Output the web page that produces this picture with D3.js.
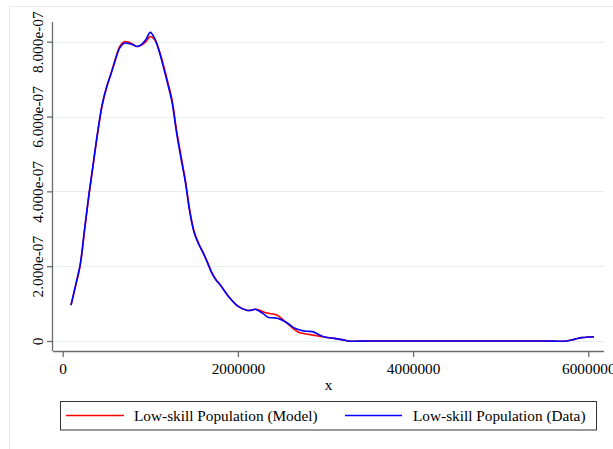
<!DOCTYPE html>
<html>
<head>
<meta charset="utf-8">
<script src="https://cdn.jsdelivr.net/npm/d3@7"></script>
<style>
  html, body { margin: 0; padding: 0; background: #fff; }
  svg { display: block; }
  text { font-family: "Liberation Serif", "Times New Roman", serif; fill: #000; }
</style>
</head>
<body>
<svg id="chart" width="613" height="449"></svg>
<script>
// Income (x) grid of the kernel density estimates
const incomeX = [
  95000, 150000, 200000, 250000, 300000, 350000, 400000, 450000, 500000, 550000,
  600000, 650000, 700000, 750000, 800000, 850000, 900000, 950000, 1000000, 1050000,
  1100000, 1150000, 1200000, 1250000, 1300000, 1350000, 1400000, 1450000, 1500000, 1550000,
  1600000, 1650000, 1700000, 1750000, 1800000, 1900000, 2000000, 2100000, 2150000, 2200000,
  2250000, 2300000, 2350000, 2400000, 2450000, 2500000, 2550000, 2600000, 2650000, 2700000,
  2750000, 2800000, 2850000, 2900000, 2950000, 3000000, 3100000, 3200000, 3260000, 3500000,
  4000000, 4500000, 5000000, 5500000, 5750000, 5850000, 5925000, 6000000, 6065000
];

// Density, low-skill population (Data)
const densityData = [
  0.96e-7, 1.52e-7, 2.05e-7, 3.00e-7, 3.93e-7, 4.77e-7, 5.60e-7, 6.31e-7, 6.78e-7, 7.13e-7,
  7.50e-7, 7.83e-7, 7.96e-7, 7.95e-7, 7.92e-7, 7.87e-7, 7.93e-7, 8.06e-7, 8.25e-7, 8.09e-7,
  7.75e-7, 7.32e-7, 6.86e-7, 6.36e-7, 5.56e-7, 4.89e-7, 4.25e-7, 3.46e-7, 2.90e-7, 2.60e-7,
  2.37e-7, 2.11e-7, 1.83e-7, 1.63e-7, 1.49e-7, 1.17e-7, 0.93e-7, 0.82e-7, 0.82e-7, 0.85e-7,
  0.79e-7, 0.71e-7, 0.63e-7, 0.62e-7, 0.61e-7, 0.56e-7, 0.50e-7, 0.42e-7, 0.34e-7, 0.30e-7,
  0.27e-7, 0.26e-7, 0.25e-7, 0.20e-7, 0.14e-7, 0.10e-7, 0.07e-7, 0.03e-7, 0, 0,
  0, 0, 0, 0, 0, 0.05e-7, 0.09e-7, 0.105e-7, 0.115e-7
];

// Density, low-skill population (Model)
const densityModel = [
  0.96e-7, 1.50e-7, 2.02e-7, 2.96e-7, 3.90e-7, 4.74e-7, 5.57e-7, 6.29e-7, 6.77e-7, 7.14e-7,
  7.53e-7, 7.87e-7, 8.00e-7, 7.99e-7, 7.93e-7, 7.87e-7, 7.91e-7, 8.00e-7, 8.14e-7, 8.05e-7,
  7.78e-7, 7.37e-7, 6.92e-7, 6.42e-7, 5.63e-7, 4.95e-7, 4.30e-7, 3.50e-7, 2.93e-7, 2.62e-7,
  2.38e-7, 2.12e-7, 1.84e-7, 1.64e-7, 1.50e-7, 1.17e-7, 0.93e-7, 0.82e-7, 0.82e-7, 0.85e-7,
  0.82e-7, 0.77e-7, 0.74e-7, 0.72e-7, 0.69e-7, 0.60e-7, 0.50e-7, 0.40e-7, 0.30e-7, 0.23e-7,
  0.20e-7, 0.18e-7, 0.16e-7, 0.14e-7, 0.12e-7, 0.10e-7, 0.07e-7, 0.03e-7, 0, 0,
  0, 0, 0, 0, 0, 0.05e-7, 0.09e-7, 0.105e-7, 0.115e-7
];

const xTicks = [0, 2000000, 4000000, 6000000];
const yTicks = [0, 2e-7, 4e-7, 6e-7, 8e-7];
const seriesNames = ["Low-skill Population (Model)", "Low-skill Population (Data)"];
const seriesColors = ["#ff0000", "#0000ff"];

const svg = d3.select("#chart");
const FONT = 15.3;

// Plot region edges
const plotLeft = 53, plotRight = 604, plotTop = 22, plotBottom = 351;

const x = d3.scaleLinear().domain([0, 6000000]).range([62.7, 588.3]);
const y = d3.scaleLinear().domain([0, 8e-7]).range([341, 41.7]);

// Outer graph-region frame
svg.append("rect")
  .attr("x", 9.5).attr("y", 6.5).attr("width", 640).attr("height", 480)
  .attr("fill", "none").attr("stroke", "#e3eded").attr("stroke-width", 1);

// Horizontal grid lines
svg.append("g").selectAll("line").data(yTicks).join("line")
  .attr("x1", plotLeft).attr("x2", plotRight)
  .attr("y1", d => Math.round(y(d)) + 0.5).attr("y2", d => Math.round(y(d)) + 0.5)
  .attr("stroke", "#e6eff0").attr("stroke-width", 1);

// Density curves
const line = d3.line()
  .x((d, i) => x(incomeX[i]))
  .y(d => y(d))
  .curve(d3.curveCatmullRom.alpha(0.5));

[densityModel, densityData].forEach((vals, k) => {
  svg.append("path")
    .attr("d", line(vals))
    .attr("fill", "none")
    .attr("stroke", seriesColors[k])
    .attr("stroke-width", 1.6)
    .attr("stroke-linejoin", "round");
});

// Y axis
const yAxis = d3.axisLeft(y).tickValues(yTicks).tickSize(6).tickPadding(4)
  .tickFormat(d => d === 0 ? "0" : d.toExponential(3).replace(/e-(\d)$/, "e-0$1"));
const gy = svg.append("g").attr("transform", `translate(${plotLeft},0)`).call(yAxis);
gy.select(".domain").attr("d", `M-0.5,${plotTop}V${plotBottom}`);
gy.selectAll(".domain, .tick line").attr("stroke", "#6b6b6b").attr("stroke-width", 1.3);
gy.selectAll(".tick text")
  .attr("font-size", FONT)
  .attr("font-family", "Liberation Serif, serif")
  .attr("text-anchor", "middle")
  .attr("x", null).attr("dy", null)
  .attr("transform", "translate(-10,0) rotate(-90)")
  .attr("y", 0);

// X axis
const xAxis = d3.axisBottom(x).tickValues(xTicks).tickSize(6).tickPadding(6)
  .tickFormat(d3.format("d"));
const gx = svg.append("g").attr("transform", `translate(0,${plotBottom})`).call(xAxis);
gx.select(".domain").attr("d", `M${plotLeft},0.5H${plotRight}`);
gx.selectAll(".domain, .tick line").attr("stroke", "#6b6b6b").attr("stroke-width", 1.3);
gx.selectAll(".tick text")
  .attr("font-size", FONT)
  .attr("font-family", "Liberation Serif, serif")
  .attr("dy", null).attr("y", 23);

// X axis title
svg.append("text")
  .attr("x", (plotLeft + plotRight) / 2).attr("y", 390)
  .attr("text-anchor", "middle").attr("font-size", FONT)
  .text("x");

// Legend
const legend = svg.append("g");
legend.append("rect")
  .attr("x", 60.5).attr("y", 401.5).attr("width", 536).attr("height", 28.5)
  .attr("fill", "#fff").attr("stroke", "#333").attr("stroke-width", 1);
const legendItems = [
  { x1: 66, x2: 124, tx: 134 },
  { x1: 345, x2: 402, tx: 413 }
];
legendItems.forEach((it, k) => {
  legend.append("line")
    .attr("x1", it.x1).attr("x2", it.x2).attr("y1", 415.5).attr("y2", 415.5)
    .attr("stroke", seriesColors[k]).attr("stroke-width", 1.6);
  legend.append("text")
    .attr("x", it.tx).attr("y", 421)
    .attr("font-size", FONT)
    .text(seriesNames[k]);
});
</script>
</body>
</html>
